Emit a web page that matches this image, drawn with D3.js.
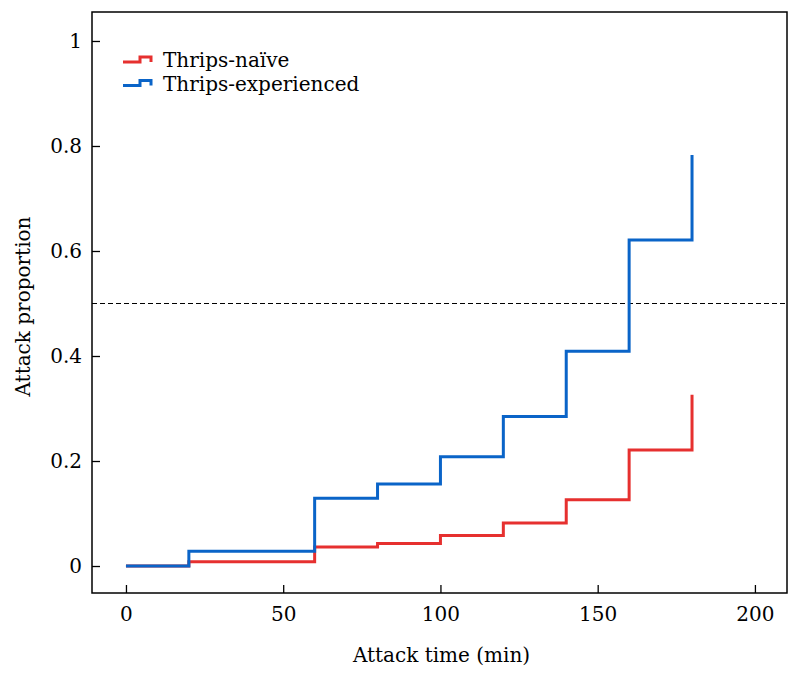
<!DOCTYPE html>
<html><head><meta charset="utf-8">
<script src="https://cdn.jsdelivr.net/npm/d3@7"></script>
<style>body{margin:0;background:#fff}svg{display:block}text{font-family:"DejaVu Serif",serif}</style>
</head><body>
<svg id="c" width="800" height="676"></svg>
<script>
const times = [0, 20, 60, 80, 100, 120, 140, 160, 180];
const naive = [0, 0.008, 0.036, 0.043, 0.058, 0.082, 0.126, 0.221, 0.326];
const experienced = [0, 0.028, 0.129, 0.156, 0.208, 0.285, 0.409, 0.621, 0.783];
const seriesNames = ["Thrips-naïve", "Thrips-experienced"];
const seriesColors = ["#e6302f", "#0a64c8"];
const xTicks = [0, 50, 100, 150, 200];
const yTicks = [0, 0.2, 0.4, 0.6, 0.8, 1];
const refLine = 0.5;

const svg = d3.select("#c");
const L = 92, R = 787, T = 12, B = 593;
const x = d3.scaleLinear().domain([-10.8, 210.2]).range([L, R]);
const y = d3.scaleLinear().domain([-0.0514, 1.0552]).range([B, T]);

// reference line
svg.append("line").attr("x1", L).attr("x2", R).attr("y1", y(refLine)).attr("y2", y(refLine))
  .attr("stroke", "#000").attr("stroke-width", 1.2).attr("stroke-dasharray", "5,3");

const line = d3.line().x(d => x(d[0])).y(d => y(d[1])).curve(d3.curveStepAfter);
[naive, experienced].forEach((vals, i) => {
  svg.append("path").datum(times.map((t, j) => [t, vals[j]]))
    .attr("d", line).attr("fill", "none").attr("stroke", seriesColors[i])
    .attr("stroke-width", 3).attr("stroke-linejoin", "miter").attr("stroke-linecap", "butt");
});

// frame
svg.append("rect").attr("x", L).attr("y", T).attr("width", R - L).attr("height", B - T)
  .attr("fill", "none").attr("stroke", "#000").attr("stroke-width", 1.5);

const fmt = d => d === 0 ? "0" : d === 1 ? "1" : String(d);
const ya = svg.append("g").attr("transform", `translate(${L},0)`)
  .call(d3.axisLeft(y).tickValues(yTicks).tickFormat(fmt).tickSize(-8).tickPadding(10));
const xa = svg.append("g").attr("transform", `translate(0,${B})`)
  .call(d3.axisBottom(x).tickValues(xTicks).tickFormat(fmt).tickSize(-8).tickPadding(14));
[ya, xa].forEach(g => {
  g.select(".domain").remove();
  g.selectAll(".tick line").attr("stroke", "#000").attr("stroke-width", 1.3);
  g.selectAll(".tick text").attr("font-size", 20).attr("fill", "#000").attr("font-family", "DejaVu Serif");
});

svg.append("text").attr("x", (L + R) / 2 + 2).attr("y", 662).attr("text-anchor", "middle")
  .attr("font-size", 20).text("Attack time (min)");
svg.append("text").attr("transform", `translate(30,${(T + B) / 2 + 4}) rotate(-90)`)
  .attr("text-anchor", "middle").attr("font-size", 20).text("Attack proportion");

// legend
const lg = svg.append("g");
seriesNames.forEach((n, i) => {
  const yy = 62 + i * 23.5;
  lg.append("path").attr("d", `M123,${yy}H140V${yy - 5}H151V${yy}`)
    .attr("fill", "none").attr("stroke", seriesColors[i]).attr("stroke-width", 3);
  lg.append("text").attr("x", 163).attr("y", yy + 5).attr("font-size", 20).text(n);
});
</script>
</body></html>
